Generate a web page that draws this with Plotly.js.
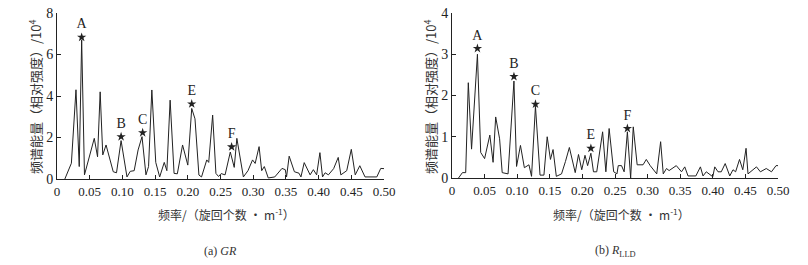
<!DOCTYPE html>
<html>
<head>
<meta charset="utf-8">
<script src="https://cdn.plot.ly/plotly-3.0.1.min.js"></script>
<style>html,body{margin:0;padding:0;background:#fff;}#chart{width:808px;height:265px;}</style>
</head>
<body>
<div id="chart"></div>
<script>
// (a) GR spectrum
const grFreq = [0.012,0.022,0.029,0.034,0.0377,0.042,0.057,0.062,0.066,0.070,0.075,0.086,0.091,0.098,0.107,0.112,0.118,0.124,0.130,0.136,0.140,0.145,0.151,0.157,0.164,0.168,0.173,0.179,0.184,0.192,0.200,0.206,0.211,0.217,0.221,0.229,0.232,0.238,0.243,0.247,0.251,0.257,0.265,0.271,0.275,0.285,0.292,0.299,0.303,0.309,0.313,0.317,0.323,0.333,0.344,0.349,0.351,0.355,0.363,0.370,0.373,0.378,0.387,0.392,0.397,0.402,0.406,0.410,0.415,0.423,0.430,0.434,0.443,0.450,0.456,0.463,0.471,0.489,0.495,0.500];
const grPower = [0,0.76,4.3,0.6,6.7,0.2,1.96,1.07,4.2,1.16,1.64,0.35,0.3,1.85,0.1,0.37,0.4,1.4,2.04,0.2,0.6,4.29,0.8,0.1,0.8,0.4,3.8,0.27,0.25,1.64,0.67,3.4,2.9,0.19,0.1,0.92,0.8,3.08,0.27,0.12,0.26,0.2,1.3,0.56,1.96,0.1,0.4,0.92,0.75,1.56,0.4,0.6,0.05,0.1,0.51,0.45,0.1,1.1,0.35,0.28,0.1,0.79,0.2,0.45,0.2,1.27,0.1,0.3,0.2,0.5,1.04,0.2,0.4,1.43,0.2,0.64,0.1,0.1,0.51,0.5];
const grStarFreq = [0.0377,0.098,0.131,0.206,0.267];
const grStarPower = [6.83,2.04,2.23,3.62,1.55];
const grStarLabel = ['A','B','C','E','F'];

// (b) RLLD spectrum
const rFreq = [0.010,0.016,0.021,0.025,0.030,0.039,0.044,0.050,0.058,0.063,0.067,0.073,0.077,0.086,0.095,0.099,0.105,0.111,0.118,0.122,0.128,0.135,0.141,0.146,0.151,0.155,0.160,0.168,0.174,0.180,0.189,0.194,0.199,0.204,0.208,0.213,0.217,0.222,0.231,0.236,0.241,0.248,0.253,0.255,0.260,0.264,0.269,0.274,0.278,0.284,0.293,0.298,0.304,0.314,0.320,0.324,0.329,0.333,0.344,0.352,0.357,0.362,0.374,0.381,0.385,0.390,0.400,0.403,0.408,0.413,0.419,0.426,0.431,0.435,0.441,0.446,0.451,0.454,0.467,0.473,0.482,0.490,0.497,0.500];
const rPower = [0,0.13,0.13,2.31,0.7,3.0,0.62,0.47,1.04,0.38,1.48,0.95,0.13,0.1,2.35,0.28,0.79,0.25,0.32,0.04,1.74,0.07,0.07,1.0,0.45,0.69,0.04,0.1,0.4,0.74,0.13,0.57,0.2,0.55,0.3,0.6,0.15,0.15,1.12,0.15,1.2,0.15,0.1,0.3,0.3,0.15,1.12,0,1.24,0.32,0.32,0.45,0.3,0.1,0.88,0.1,0.23,0.18,0.3,0.15,0.27,0.05,0.05,0.27,0.05,0.15,0.03,0.27,0.15,0.15,0.35,0.05,0.2,0.15,0.45,0.2,0.72,0.1,0.27,0.15,0.23,0.15,0.3,0.3];
const rStarFreq = [0.039,0.095,0.128,0.213,0.269];
const rStarPower = [3.14,2.46,1.79,0.72,1.2];
const rStarLabel = ['A','B','C','E','F'];

const xTickVals = [0,0.05,0.10,0.15,0.20,0.25,0.30,0.35,0.40,0.45,0.50];
const xTickText = ['0','0.05','0.10','0.15','0.20','0.25','0.30','0.35','0.40','0.45','0.50'];
const grYTicks = [0,2,4,6,8];
const rYTicks = [0,1,2,3,4];

const yTitle = '频谱能量（相对强度）/10<sup>4</sup>';
const xTitle = '频率/（旋回个数 · m<sup>-1</sup>）';
const captions = ['(a) <i>GR</i>', '(b) <i>R</i><sub>LLD</sub>'];

const W = 808, H = 265;
const serif = '"Liberation Serif", "DejaVu Serif", serif';
const cjk = '"Noto Sans CJK SC", sans-serif';
const ink = '#222';

const lineStyle = {color: ink, width: 1};
const traces = [
  {x: grFreq, y: grPower, type: 'scatter', mode: 'lines', line: lineStyle, xaxis: 'x', yaxis: 'y', hoverinfo: 'skip', cliponaxis: false},
  {x: grStarFreq, y: grStarPower, type: 'scatter', mode: 'markers+text', text: grStarLabel, textposition: 'top center',
   textfont: {family: serif, size: 14, color: ink}, marker: {symbol: 'star', size: 7, color: ink}, xaxis: 'x', yaxis: 'y', cliponaxis: false},
  {x: rFreq, y: rPower, type: 'scatter', mode: 'lines', line: lineStyle, xaxis: 'x2', yaxis: 'y2', hoverinfo: 'skip', cliponaxis: false},
  {x: rStarFreq, y: rStarPower, type: 'scatter', mode: 'markers+text', text: rStarLabel, textposition: 'top center',
   textfont: {family: serif, size: 14, color: ink}, marker: {symbol: 'star', size: 7, color: ink}, xaxis: 'x2', yaxis: 'y2', cliponaxis: false}
];

function xax(domain, anchor) {
  return {domain: domain, anchor: anchor, range: [0, 0.5], tickvals: xTickVals, ticktext: xTickText,
    ticks: 'inside', ticklen: 4, tickcolor: ink, tickwidth: 1, showline: true, linecolor: ink, linewidth: 1,
    showgrid: false, zeroline: false, tickfont: {family: serif, size: 13, color: ink}};
}
function yax(domain, anchor, range, ticks) {
  return {domain: domain, anchor: anchor, range: range, tickvals: ticks,
    ticks: 'inside', ticklen: 4, tickcolor: ink, tickwidth: 1, showline: true, linecolor: ink, linewidth: 1,
    showgrid: false, zeroline: false, tickfont: {family: serif, size: 14, color: ink}};
}

const px = v => v / W, py = v => 1 - v / H;
const ann = [];
[[57, 384], [452, 778]].forEach((r, i) => {
  ann.push({xref: 'paper', yref: 'paper', x: px(r[0] - 22), y: py(97), text: yTitle, textangle: -90, showarrow: false,
    font: {family: cjk, size: 13, color: '#333'}, xanchor: 'center', yanchor: 'middle'});
  ann.push({xref: 'paper', yref: 'paper', x: px((r[0] + r[1]) / 2 + 6), y: py(214), text: xTitle, showarrow: false,
    font: {family: cjk, size: 12, color: '#333'}, xanchor: 'center', yanchor: 'middle'});
  ann.push({xref: 'paper', yref: 'paper', x: px((r[0] + r[1]) / 2), y: py(251), text: captions[i], showarrow: false,
    font: {family: serif, size: 12, color: '#333'}, xanchor: 'center', yanchor: 'middle'});
});

const layout = {
  width: W, height: H, margin: {l: 0, r: 0, t: 0, b: 0}, showlegend: false,
  paper_bgcolor: '#fff', plot_bgcolor: '#fff',
  xaxis: xax([px(57), px(384)], 'y'),
  yaxis: yax([py(179), py(13)], 'x', [0, 8], grYTicks),
  xaxis2: xax([px(452), px(778)], 'y2'),
  yaxis2: yax([py(178), py(13)], 'x2', [0, 4], rYTicks),
  annotations: ann
};
Plotly.newPlot('chart', traces, layout, {staticPlot: true});
</script>
</body>
</html>
